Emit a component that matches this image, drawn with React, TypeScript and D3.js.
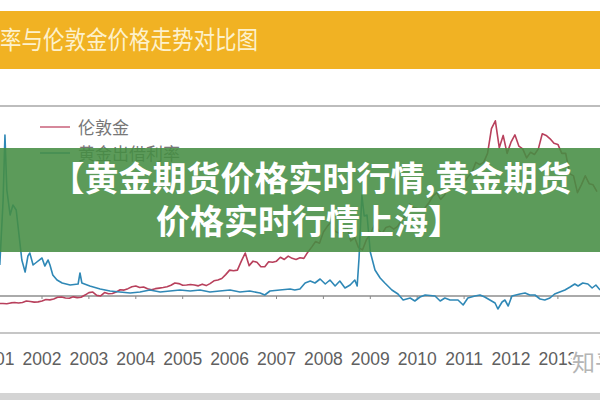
import React from "react"
import * as d3 from "d3"

const W = 600
const H = 400

// year labels on the axis
const yearTicks = [2001, 2002, 2003, 2004, 2005, 2006, 2007, 2008, 2009, 2010, 2011, 2012, 2013]

// London gold, monthly, USD/oz, from Feb 2001
const goldStart = 2001 + 1 / 12
const goldPrices = [
  262, 263, 261, 268, 271, 267, 272, 285, 280, 275, 277,
  285, 298, 295, 303, 318, 320, 312, 310, 322, 315, 318, 338,
  360, 365, 335, 330, 360, 350, 352, 365, 385, 382, 395, 412,
  418, 405, 410, 395, 385, 395, 400, 405, 412, 425, 445, 440,
  425, 428, 432, 428, 420, 435, 422, 440, 465, 472, 485, 520,
  560, 555, 560, 640, 712, 600, 640, 630, 590, 590, 635, 630,
  640, 675, 655, 685, 665, 655, 670, 665, 720, 765, 815, 800,
  900, 950, 990, 905, 890, 900, 950, 820, 850, 760, 740, 830,
  880, 960, 920, 885, 940, 950, 925, 950, 1005, 1050, 1150, 1120,
  1110, 1090, 1115, 1160, 1220, 1250, 1190, 1230, 1290, 1350, 1390, 1410,
  1340, 1390, 1430, 1520, 1500, 1520, 1600, 1820, 1890, 1650, 1760, 1600,
  1700, 1765, 1665, 1640, 1560, 1610, 1590, 1640, 1775, 1760, 1730, 1690,
  1680, 1600, 1600, 1420, 1400, 1250, 1320, 1400, 1330, 1320, 1260,
]

// gold lease rate (%)
const leaseYears = [
  2001.1, 2001.17, 2001.21, 2001.25, 2001.32, 2001.38, 2001.45, 2001.51, 2001.57, 2001.64,
  2001.7, 2001.74, 2001.81, 2001.89, 2002.0, 2002.06, 2002.13, 2002.17, 2002.23, 2002.32,
  2002.43, 2002.6, 2002.77, 2002.81, 2002.85, 2003.02, 2003.24, 2003.45, 2003.66, 2003.88,
  2004.09, 2004.3, 2004.52, 2004.73, 2004.94, 2005.16, 2005.37, 2005.58, 2005.79, 2006.01,
  2006.22, 2006.43, 2006.65, 2006.75, 2006.86, 2007.07, 2007.29, 2007.39, 2007.5, 2007.61,
  2007.72, 2007.82, 2007.93, 2008.04, 2008.14, 2008.25, 2008.35, 2008.46, 2008.57, 2008.67,
  2008.72, 2008.76, 2008.82, 2008.87, 2008.93, 2009.0, 2009.1, 2009.21, 2009.31, 2009.46,
  2009.59, 2009.7, 2009.85, 2009.95, 2010.06, 2010.17, 2010.38, 2010.49, 2010.59, 2010.7,
  2010.87, 2010.98, 2011.08, 2011.23, 2011.34, 2011.44, 2011.55, 2011.66, 2011.72, 2011.81,
  2011.87, 2011.94, 2012.02, 2012.19, 2012.3, 2012.4, 2012.51, 2012.62, 2012.72, 2012.83,
  2012.93, 2013.04, 2013.15, 2013.26, 2013.36, 2013.43, 2013.53, 2013.64, 2013.73, 2013.81,
  2013.9,
]
const leaseRates = [
  0.62, 1.9, 3.22, 2.12, 1.62, 1.82, 1.72, 1.22, 0.72, 0.48,
  0.8, 0.86, 0.62, 0.68, 0.76, 0.6, 0.72, 0.62, 0.42, 0.32,
  0.26, 0.22, 0.24, 0.46, 0.26, 0.2, 0.14, 0.1, 0.08, 0.06,
  0.08, 0.12, 0.08, 0.1, 0.12, 0.1, 0.12, 0.08, 0.1, 0.12,
  0.08, 0.1, 0.06, 0.02, 0.1, 0.12, 0.14, 0.12, 0.14, 0.26,
  0.3, 0.26, 0.34, 0.24, 0.32, 0.2, 0.3, 0.16, 0.22, 0.32,
  0.2, 0.76, 2.02, 1.6, 1.62, 0.88, 0.52, 0.36, 0.26, 0.12,
  0.04, -0.08, -0.04, -0.1, -0.02, 0.02, 0.0, -0.1, -0.04, -0.08,
  -0.08, -0.18, -0.04, 0.0, 0.02, -0.02, -0.08, -0.14, -0.26, -0.12,
  -0.08, -0.2, 0.0, 0.04, 0.06, 0.02, 0.02, -0.06, -0.08, -0.04,
  0.04, 0.08, 0.12, 0.18, 0.24, 0.2, 0.26, 0.24, 0.16, 0.22,
  0.12,
]

const legendItems = ["伦敦金", "黄金出借利率"]
const goldColor = "#b8405c"
const leaseColor = "#2f88b6"

const x = d3.scaleLinear().domain([2001, 2014]).range([-4.9, 604.8])
const yGold = d3.scaleLinear().domain([0, 2022]).range([333, 106])
const yLease = d3.scaleLinear().domain([-0.74, 3.8]).range([333, 106])

const cjk = "'Noto Sans CJK SC', sans-serif"

export default function App() {
  const goldPts: [number, number][] = goldPrices.map((p, i) => [goldStart + i / 12, p])
  const leasePts: [number, number][] = leaseYears.map((yr, i) => [yr, leaseRates[i]])

  const goldLine = d3.line<[number, number]>().x(d => x(d[0])).y(d => yGold(d[1]))
  const leaseLine = d3.line<[number, number]>().x(d => x(d[0])).y(d => yLease(d[1]))

  const zeroY = yLease(0)
  const axisY = yGold(0)

  return (
    <svg width={W} height={H} style={{ position: "absolute", left: 0, top: 0, background: "#fff" }}>
      {/* title bar */}
      <rect x={0} y={11} width={W} height={58} fill="#f1b223" />
      <text x={0} y={49} fontFamily={cjk} fontSize={25} fill="#fdf1cc"
        textLength={258} lengthAdjust="spacingAndGlyphs">率与伦敦金价格走势对比图</text>

      {/* frame lines */}
      <line x1={0} x2={W} y1={106} y2={106} stroke="#bdbdbd" strokeWidth={2} />
      <line x1={0} x2={W} y1={axisY} y2={axisY} stroke="#c6c6c6" strokeWidth={2} />
      <line x1={0} x2={W} y1={zeroY} y2={zeroY} stroke="#aaaaaa" strokeWidth={2} />
      {yearTicks.map(t => (
        <line key={"tk" + t} x1={x(t)} x2={x(t)} y1={zeroY} y2={zeroY + 3} stroke="#888" strokeWidth={1} />
      ))}

      {/* series */}
      <path d={goldLine(goldPts) || ""} fill="none" stroke={goldColor} strokeWidth={1.6} strokeLinejoin="round" />
      <path d={leaseLine(leasePts) || ""} fill="none" stroke={leaseColor} strokeWidth={1.6} strokeLinejoin="round" />

      {/* legend */}
      {legendItems.map((name, i) => (
        <g key={name} transform={`translate(0, ${127 + i * 26})`}>
          <line x1={40} x2={70} y1={0} y2={0} stroke={i === 0 ? "#c8607a" : leaseColor} strokeWidth={1.5} />
          <text x={78} y={7} fontFamily={cjk} fontSize={17} fill="#777">{name}</text>
        </g>
      ))}

      {/* year labels */}
      {yearTicks.map(t => (
        <text key={t} x={x(t)} y={365} textAnchor="middle" fontFamily="'Liberation Sans', Arial, sans-serif"
          fontSize={17.5} fill="#606060">{t}</text>
      ))}

      {/* bottom band */}
      <rect x={0} y={393} width={W} height={7} fill="#d4d4d4" />

      {/* watermark */}
      <text x={572} y={371} fontFamily={cjk} fontSize={23} fill="#b5b5b5" stroke="#fff" strokeWidth={3}
        style={{ paintOrder: "stroke" }}>知乎</text>

      {/* green overlay banner */}
      <rect x={0} y={148} width={W} height={104} fill="#468d43" opacity={0.88} />
      <text x={311} y={191} textAnchor="middle" fontFamily={cjk} fontWeight={700} fontSize={34} fill="#fff">
        【黄金期货价格实时行情,黄金期货
      </text>
      <text x={309} y={234} textAnchor="middle" fontFamily={cjk} fontWeight={700} fontSize={34} fill="#fff">
        价格实时行情上海】
      </text>
    </svg>
  )
}
